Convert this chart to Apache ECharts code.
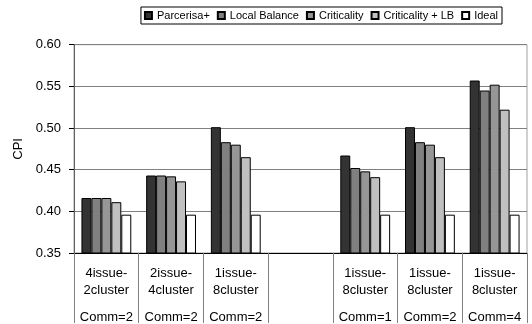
<!DOCTYPE html>
<html>
<head>
<meta charset="utf-8">
<script src="https://cdn.jsdelivr.net/npm/echarts@6/dist/echarts.min.js"></script>
<style>
  html, body { margin: 0; padding: 0; background: #fff; }
  #chart { width: 532px; height: 324px; }
</style>
</head>
<body>
<div id="chart"></div>
<script>
// Configuration labels (line 1, line 2, communication latency); the empty slot is a spacer
const configTop = ['4issue-', '2issue-', '1issue-', '', '1issue-', '1issue-', '1issue-'];
const configBottom = ['2cluster', '4cluster', '8cluster', '', '8cluster', '8cluster', '8cluster'];
const comm = ['Comm=2', 'Comm=2', 'Comm=2', '', 'Comm=1', 'Comm=2', 'Comm=4'];

// CPI per scheme
const parcerisa = [0.416, 0.443, 0.501, null, 0.467, 0.501, 0.557];
const localBalance = [0.416, 0.443, 0.483, null, 0.452, 0.483, 0.545];
const criticality = [0.416, 0.442, 0.480, null, 0.448, 0.480, 0.552];
const criticalityLB = [0.411, 0.436, 0.465, null, 0.441, 0.465, 0.522];
const ideal = [0.396, 0.396, 0.396, null, 0.396, 0.396, 0.396];

const seriesNames = ['Parcerisa+', 'Local Balance', 'Criticality', 'Criticality + LB', 'Ideal'];
const seriesData = [parcerisa, localBalance, criticality, criticalityLB, ideal];
const seriesColors = ['#333333', '#808080', '#969696', '#c0c0c0', '#ffffff'];

const categories = configTop.map((t, i) => i);

const FONT = '"Liberation Sans", Arial, sans-serif';

const chart = echarts.init(document.getElementById('chart'), null, { renderer: 'canvas' });

chart.setOption({
  animation: false,
  backgroundColor: '#ffffff',
  textStyle: { fontFamily: FONT },
  legend: {
    data: seriesNames,
    top: 7,
    right: 30,
    icon: 'rect',
    itemWidth: 7,
    itemHeight: 7,
    itemGap: 7,
    padding: [3, 4, 3, 3],
    borderColor: '#000',
    borderWidth: 1,
    textStyle: { fontFamily: FONT, fontSize: 11, color: '#000' }
  },
  grid: {
    left: 74,
    right: 5,
    top: 44.7,
    bottom: 68.7,
    show: true,
    borderColor: '#a0a0a0',
    borderWidth: 1,
    backgroundColor: 'transparent'
  },
  xAxis: {
    type: 'category',
    data: categories,
    axisLine: { show: true, lineStyle: { color: '#000', width: 1 } },
    axisTick: {
      show: true,
      interval: 0,
      length: 70,
      lineStyle: { color: '#808080', width: 1 }
    },
    axisLabel: {
      interval: 0,
      margin: 12,
      formatter: (v, i) => {
        const idx = Number(v);
        if (!configTop[idx]) return '';
        return '{a|' + configTop[idx] + '}\n{a|' + configBottom[idx] + '}\n{b|' + comm[idx] + '}';
      },
      rich: {
        a: { fontFamily: FONT, fontSize: 13, lineHeight: 17, color: '#000' },
        b: { fontFamily: FONT, fontSize: 13, lineHeight: 37, color: '#000' }
      }
    }
  },
  yAxis: {
    type: 'value',
    min: 0.35,
    max: 0.60,
    interval: 0.05,
    name: 'CPI',
    nameLocation: 'middle',
    nameGap: 42,
    nameTextStyle: { fontFamily: FONT, fontSize: 13, color: '#000' },
    axisLine: { show: true, lineStyle: { color: '#606060', width: 1 } },
    axisTick: { show: true, inside: false, length: 5, lineStyle: { color: '#000' } },
    axisLabel: {
      margin: 13,
      fontFamily: FONT,
      fontSize: 13,
      color: '#000',
      formatter: v => v.toFixed(2)
    },
    splitLine: { show: true, lineStyle: { color: '#808080', width: 1 } }
  },
  series: seriesNames.map((name, i) => ({
    name: name,
    type: 'bar',
    data: seriesData[i],
    barGap: '0%',
    barCategoryGap: '23%',
    itemStyle: {
      color: seriesColors[i],
      borderColor: '#000',
      borderWidth: 1
    }
  }))
});
</script>
</body>
</html>
